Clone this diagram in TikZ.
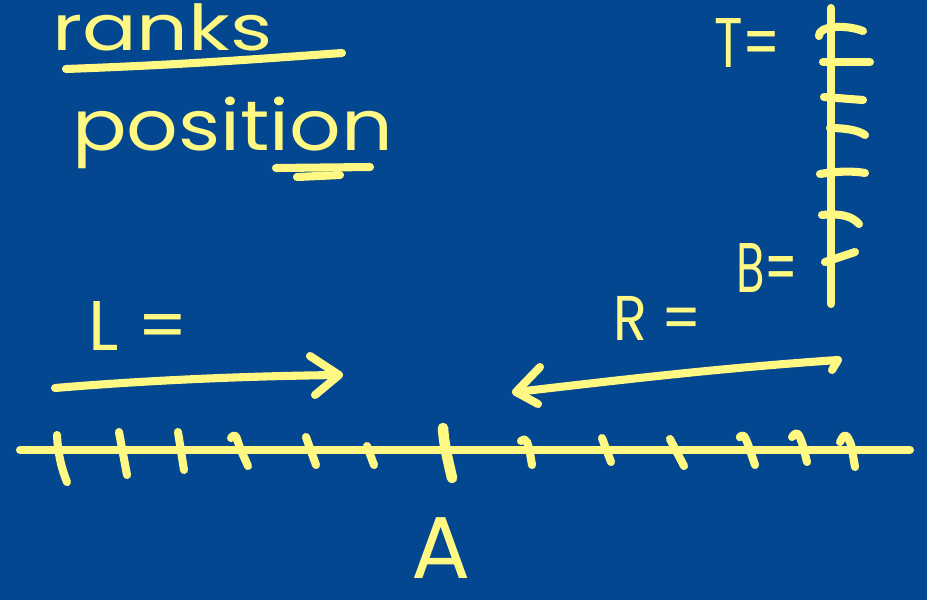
\documentclass[tikz,border=0pt]{standalone}
\usepackage{fontspec}
\setmainfont{Poppins}
\definecolor{board}{RGB}{3,71,145}
\definecolor{marker}{RGB}{255,248,130}
\begin{document}
\begin{tikzpicture}[x=0.02cm,y=-0.02cm,
  pen/.style={draw=marker,line width=4.6pt,line cap=round,line join=round},
  fatpen/.style={pen,line width=6pt},
  word/.style={text=marker,inner sep=0pt,outer sep=0pt,anchor=base west}]
\fill[board] (0,0) rectangle (927,600);
\useasboundingbox (0,0) rectangle (927,600);

% headings
\node[word,font=\fontsize{36}{36}\selectfont,xscale=1.28] (ranks) at (52,50) {ranks};
\draw[pen] (66,69) .. controls (200,64) and (270,58) .. (342,53);
\node[word,font=\fontsize{40}{40}\selectfont,xscale=1.15] (position) at (72,150) {position};
\draw[pen] (276,168) -- (370,167);
\draw[pen] (297,177) -- (340,175);

% vertical scale
\coordinate (vtop) at (831,8);
\coordinate (vbot) at (831,304);
\draw[pen] (vtop) -- (vbot);
\draw[pen] (819,36) .. controls (818,26) and (845,24) .. (863,31);
\draw[pen] (823,62) -- (870,62);
\draw[pen] (824,97) -- (863,100);
\draw[pen] (830,128) .. controls (845,128) and (858,130) .. (865,135);
\draw[pen] (820,174) .. controls (838,171) and (855,171) .. (865,173);
\draw[pen] (822,215) .. controls (840,213) and (852,216) .. (859,224);
\draw[pen] (825,262) -- (855,252);
\node[word,font=\fontsize{40}{40}\selectfont,xscale=0.75] (T) at (714,67) {T=};
\node[word,font=\fontsize{40}{40}\selectfont,xscale=0.66] (B) at (736,292) {B=};

% labels L and R
\node[word,font=\fontsize{40}{40}\selectfont] (L) at (88,350) {L =};
\node[word,font=\fontsize{36}{36}\selectfont,xscale=0.88] (R) at (613,340) {R =};

% arrows
\coordinate (la0) at (55,388);
\coordinate (la1) at (339,375);
\draw[pen] (la0) .. controls (150,380) and (250,376) .. (la1);
\draw[pen] (310,356) -- (la1) -- (315,395);
\coordinate (ra0) at (838,360);
\coordinate (ra1) at (516,392);
\draw[pen] (832,370) -- (ra0) .. controls (720,368) and (620,380) .. (ra1);
\draw[pen] (540,367) -- (ra1) -- (538,404);

% horizontal axis
\coordinate (hl) at (20,450);
\coordinate (hr) at (910,450);
\draw[pen] (hl) -- (hr);
\draw[pen] (57,435) .. controls (58,455) and (62,470) .. (67,482);
\draw[pen] (119,432) -- (127,475);
\draw[pen] (178,432) -- (184,470);
\draw[pen,rounded corners=3pt] (231,438) -- (235,433) -- (240,448) -- (248,466);
\draw[pen] (306,437) -- (316,465);
\draw[pen] (367,446) -- (374,465);
\draw[fatpen] (443,428) .. controls (444,445) and (448,460) .. (452,478);
\draw[pen,rounded corners=3pt] (521,441) -- (525,437) -- (529,447) -- (532,465);
\draw[pen] (602,438) -- (611,462);
\draw[pen] (670,439) -- (684,466);
\draw[pen,rounded corners=3pt] (740,437) -- (743,433) -- (748,444) -- (755,465);
\draw[pen,rounded corners=3pt] (792,437) -- (797,431) -- (802,442) -- (807,462);
\draw[pen,rounded corners=3pt] (840,442) -- (845,433) -- (851,443) -- (855,467);

\node[word,font=\fontsize{50}{50}\selectfont] (A) at (411,578) {A};
\end{tikzpicture}
\end{document}
